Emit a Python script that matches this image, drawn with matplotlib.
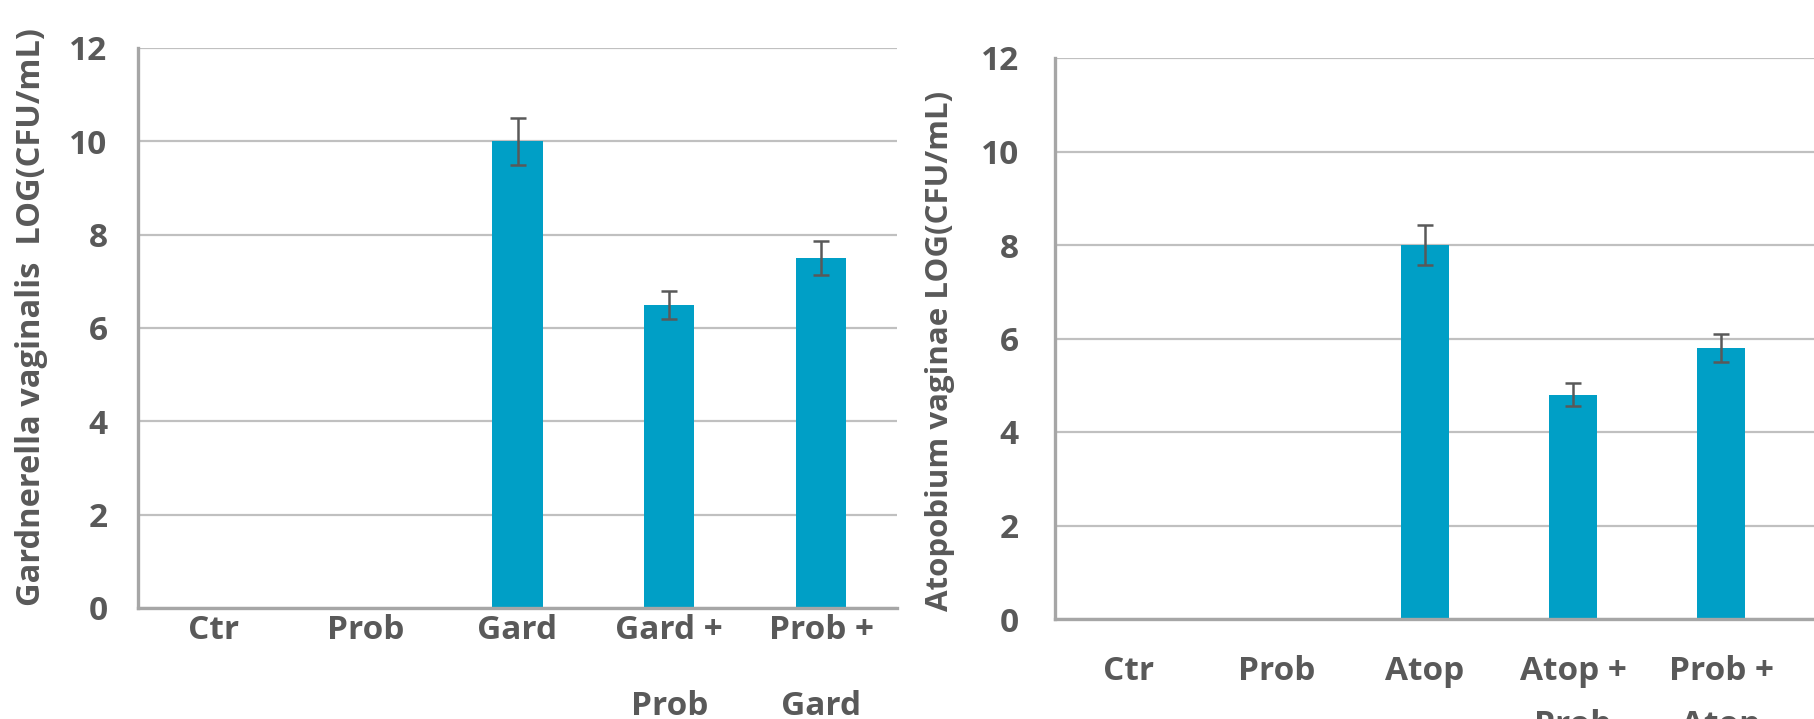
import numpy as np
import matplotlib.pyplot as plt

plt.rcParams['font.family'] = ['Open Sans', 'DejaVu Sans']
plt.rcParams['font.weight'] = 'bold'

TEXT = '#595959'
BAR = '#009FC6'
GRID = '#C0C0C0'
SPINE = '#A6A6A6'

# left panel: Gardnerella
gard_labels = ['Ctr', 'Prob', 'Gard', 'Gard +\nProb', 'Prob +\nGard']
gard_vals = [0, 0, 10.0, 6.5, 7.5]
gard_err = [0, 0, 0.5, 0.3, 0.36]
gard_ylabel = 'Gardnerella vaginalis  LOG(CFU/mL)'

# right panel: Atopobium
atop_labels = ['Ctr', 'Prob', 'Atop', 'Atop +\nProb', 'Prob +\nAtop']
atop_vals = [0, 0, 8.0, 4.8, 5.8]
atop_err = [0, 0, 0.42, 0.25, 0.3]
atop_ylabel = 'Atopobium vaginae LOG(CFU/mL)'

yticks = [0, 2, 4, 6, 8, 10, 12]

W, H = 1814, 719
fig = plt.figure(figsize=(W / 100, H / 100), dpi=100)


def panel(rect, labels, vals, err, xmax, ypad, xpad, lspace):
    ax = fig.add_axes(rect)
    x = np.arange(len(labels))
    ax.bar(x, vals, width=0.33, color=BAR, zorder=3)
    e = np.array(err)
    m = e > 0
    ax.errorbar(x[m], np.array(vals)[m], yerr=e[m], fmt='none', ecolor=TEXT,
                elinewidth=1.8, capsize=5.5, capthick=1.8, zorder=4)
    ax.set_xlim(-0.5, xmax)
    ax.set_ylim(0, 12)
    ax.set_yticks(yticks)
    ax.set_xticks(x)
    ax.set_xticklabels(labels, linespacing=lspace)
    ax.tick_params(axis='both', length=0, colors=TEXT, labelsize=24)
    ax.tick_params(axis='y', pad=ypad)
    ax.tick_params(axis='x', pad=xpad)
    for lab in ax.get_xticklabels() + ax.get_yticklabels():
        lab.set_fontweight('bold')
    ax.grid(axis='y', color=GRID, linewidth=1.6, zorder=0)
    ax.set_axisbelow(True)
    for s in ['top', 'right']:
        ax.spines[s].set_visible(False)
    for s in ['left', 'bottom']:
        ax.spines[s].set_color(SPINE)
        ax.spines[s].set_linewidth(2.4)
    ax.spines['bottom'].set_zorder(5)
    return ax


panel([138 / W, 1 - 608 / H, 759 / W, 560 / H],
      gard_labels, gard_vals, gard_err, 4.5, 22, 4, 2.75)
panel([1055 / W, 1 - 619 / H, 759 / W, 561 / H],
      atop_labels, atop_vals, atop_err, (1814 - 1055) / 148 - 0.5, 26, 26, 1.85)

fig.text(32 / W, 1 - 317 / H, gard_ylabel, rotation=90, ha='center', va='center',
         fontsize=23.5, fontweight='bold', color=TEXT)
fig.text(940 / W, 1 - 351 / H, atop_ylabel, rotation=90, ha='center', va='center',
         fontsize=22.5, fontweight='bold', color=TEXT)

fig.savefig('out.png', dpi=100, facecolor='white')
